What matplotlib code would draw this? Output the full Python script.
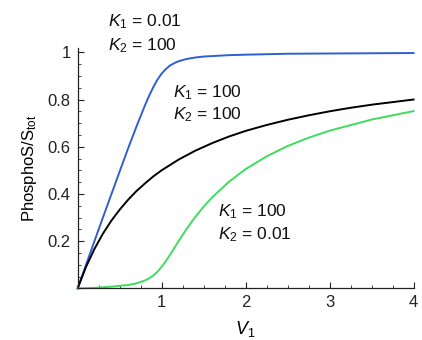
import matplotlib
matplotlib.use("Agg")
import matplotlib.pyplot as plt
from matplotlib.ticker import MultipleLocator, FixedLocator

plt.rcParams["font.family"] = ["Liberation Sans", "DejaVu Sans"]
plt.rcParams["mathtext.fontset"] = "custom"
plt.rcParams["mathtext.rm"] = "Liberation Sans"
plt.rcParams["mathtext.it"] = "Liberation Sans:italic"

# ── data ──────────────────────────────────────────────────────────────────────
# K1 = 0.01, K2 = 100  (blue)
v_blue = [0, 0.1, 0.2, 0.3, 0.4, 0.5, 0.6, 0.7, 0.8, 0.85, 0.9, 0.95, 1.0,
          1.05, 1.1, 1.15, 1.2, 1.3, 1.4, 1.5, 1.6, 1.8, 2.0, 2.5, 3.0, 3.5, 4.0]
p_blue = [0, 0.100, 0.200, 0.299, 0.397, 0.495, 0.592, 0.685, 0.774, 0.815,
          0.852, 0.884, 0.910, 0.929, 0.944, 0.954, 0.962, 0.972, 0.978,
          0.982, 0.984, 0.988, 0.990, 0.994, 0.995, 0.996, 0.997]

# K1 = 100, K2 = 100  (black)
v_black = [0, 0.1, 0.2, 0.3, 0.4, 0.5, 0.6, 0.7, 0.8, 0.9, 1.0, 1.2, 1.4,
           1.6, 1.8, 2.0, 2.25, 2.5, 2.75, 3.0, 3.25, 3.5, 3.75, 4.0]
p_black = [0, 0.091, 0.167, 0.231, 0.286, 0.333, 0.375, 0.412, 0.444, 0.474,
           0.500, 0.545, 0.583, 0.615, 0.643, 0.667, 0.692, 0.714, 0.733,
           0.750, 0.765, 0.778, 0.789, 0.800]

# K1 = 100, K2 = 0.01  (green)
v_green = [0, 0.2, 0.4, 0.6, 0.7, 0.8, 0.85, 0.9, 0.95, 1.0, 1.05, 1.1, 1.15,
           1.2, 1.3, 1.4, 1.5, 1.6, 1.8, 2.0, 2.25, 2.5, 2.75, 3.0, 3.5, 4.0]
p_green = [0, 0.002, 0.007, 0.014, 0.021, 0.033, 0.042, 0.054, 0.070, 0.091,
           0.115, 0.142, 0.170, 0.199, 0.253, 0.302, 0.346, 0.385, 0.451,
           0.505, 0.559, 0.603, 0.638, 0.668, 0.715, 0.751]

y_ticks = [0.2, 0.4, 0.6, 0.8, 1.0]
y_tick_labels = ["0.2", "0.4", "0.6", "0.8", "1"]
x_ticks = [1, 2, 3, 4]
x_tick_labels = ["1", "2", "3", "4"]

# ── figure ────────────────────────────────────────────────────────────────────
fig = plt.figure(figsize=(4.22, 3.40), dpi=100)
ax = fig.add_axes([0.184, 0.152, 0.796, 0.708])

ax.plot(v_blue, p_blue, color="#2f5fd2", lw=1.4, clip_on=False)
ax.plot(v_black, p_black, color="black", lw=1.4, clip_on=False)
ax.plot(v_green, p_green, color="#3fdc5e", lw=1.4, clip_on=False)

ax.set_xlim(0, 4)
ax.set_ylim(0, 1.02)
ax.spines[["top", "right"]].set_visible(False)
ax.spines["left"].set_bounds(0, 1.02)

ax.xaxis.set_major_locator(FixedLocator(x_ticks))
ax.set_xticklabels(x_tick_labels)
ax.xaxis.set_minor_locator(MultipleLocator(0.25))
ax.yaxis.set_major_locator(FixedLocator(y_ticks))
ax.set_yticklabels(y_tick_labels)
ax.yaxis.set_minor_locator(MultipleLocator(0.05))

ax.tick_params(which="major", direction="in", length=4, width=0.8,
               labelsize=12, pad=5, colors="#222222")
ax.tick_params(which="minor", direction="in", length=2, width=0.6, colors="#222222")
for s in ax.spines.values():
    s.set_linewidth(0.9)
    s.set_color("#222222")

ax.set_ylabel(r"PhosphoS/S$_{\mathrm{tot}}$", fontsize=12, labelpad=6)
ax.set_xlabel(r"$V_1$", fontsize=13, labelpad=6)

tkw = dict(fontsize=12.5, ha="left", va="center", color="#111111")
ax.text(0.36, 1.128, r"$K_1$ = 0.01", **tkw)
ax.text(0.36, 1.030, r"$K_2$ = 100", **tkw)
ax.text(1.14, 0.831, r"$K_1$ = 100", **tkw)
ax.text(1.14, 0.734, r"$K_2$ = 100", **tkw)
ax.text(1.67, 0.323, r"$K_1$ = 100", **tkw)
ax.text(1.67, 0.226, r"$K_2$ = 0.01", **tkw)

fig.savefig("out.png", dpi=100)
